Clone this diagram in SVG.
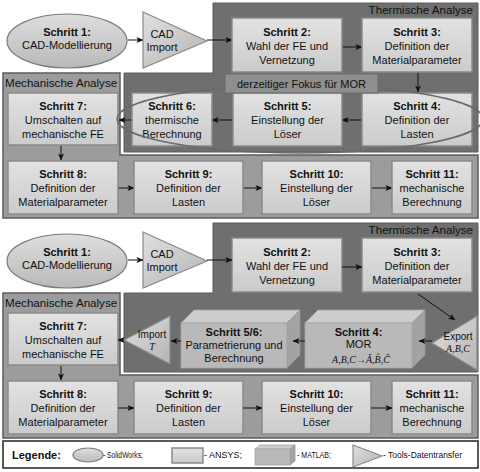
<svg xmlns="http://www.w3.org/2000/svg" width="480" height="472" viewBox="0 0 480 472">
<defs>
<linearGradient id="gBox" x1="0" y1="0" x2="0" y2="1"><stop offset="0" stop-color="#e2e2e2"/><stop offset="1" stop-color="#cbcbcb"/></linearGradient>
<linearGradient id="gEll" x1="0" y1="0" x2="0" y2="1"><stop offset="0" stop-color="#dedede"/><stop offset="1" stop-color="#b9b9b9"/></linearGradient>
<linearGradient id="gTri" x1="0" y1="0" x2="1" y2="1"><stop offset="0" stop-color="#e0e0e0"/><stop offset="1" stop-color="#b4b4b4"/></linearGradient>
<marker id="ah" viewBox="0 0 8 8" refX="7.5" refY="4" markerWidth="7" markerHeight="7" markerUnits="userSpaceOnUse" orient="auto"><path d="M0,0.6 L8,4 L0,7.4 L2,4 z" fill="#111"/></marker>
<style>
text{font-family:"Liberation Sans",Arial,sans-serif;fill:#111}
.t{font-size:11px;text-anchor:middle}
.b{font-weight:bold}
.box{fill:url(#gBox);stroke:#8a8a8a;stroke-width:1.5}
.ell{fill:url(#gEll);stroke:#7a7a7a;stroke-width:1.2}
.tri{fill:url(#gTri);stroke:#8a8a8a;stroke-width:1.2}
.mech{fill:#9c9c9c;stroke:#5c5c5c;stroke-width:1.5}
.therm{fill:#6f6f6f;stroke:#5a5a5a;stroke-width:1}
.ptitle{font-size:11.6px}
.c{fill:none;stroke:#111;stroke-width:1;marker-end:url(#ah)}
.front{fill:#b9b9b9;stroke:#a5a5a5;stroke-width:0.8}
.top{fill:#cdcdcd;stroke:#a5a5a5;stroke-width:0.8}
.side{fill:#a3a3a3;stroke:#959595;stroke-width:0.8}
.math{font-family:"Liberation Serif","Times New Roman",serif;font-style:italic;font-size:10px;text-anchor:middle}
.sm{font-size:10px;text-anchor:middle}
.leg{font-size:8.5px}
</style>
</defs>
<rect width="480" height="472" fill="#fff"/>

<!-- ===== TOP HALF ===== -->
<g id="panel-thermal-1">
<path class="therm" d="M213,3 H478 V152 H124 V73 H213 Z"/>
<text class="ptitle" x="473" y="14" text-anchor="end">Thermische Analyse</text>
</g>
<g id="panel-mech-1">
<path class="mech" d="M3,73 H120 V155 H478 V218 H3 Z"/>
<text class="ptitle" x="5" y="87">Mechanische Analyse</text>
</g>

<g id="connectors-1">
<line class="c" x1="128" y1="40" x2="143" y2="40"/>
<line class="c" x1="207" y1="40" x2="232" y2="40"/>
<line class="c" x1="342" y1="47" x2="362" y2="47"/>
<line class="c" x1="418" y1="72" x2="418" y2="92"/>
<line class="c" x1="362" y1="120" x2="342" y2="120"/>
<line class="c" x1="233" y1="120" x2="212" y2="120"/>
<line class="c" x1="132" y1="120" x2="119" y2="120"/>
<line class="c" x1="61" y1="146" x2="61" y2="160"/>
<line class="c" x1="118" y1="188" x2="134" y2="188"/>
<line class="c" x1="243" y1="188" x2="262" y2="188"/>
<line class="c" x1="371" y1="188" x2="392" y2="188"/>
</g>

<g id="s1-top"><ellipse class="ell" cx="67" cy="41" rx="60" ry="27"/><text class="t"><tspan class="b" x="67" y="36">Schritt 1:</tspan><tspan x="67" y="49">CAD-Modellierung</tspan></text></g>
<g id="cad-top"><polygon class="tri" points="143,12 207,41 143,68"/><text class="t"><tspan x="162" y="38">CAD</tspan><tspan x="162" y="51">Import</tspan></text></g>
<g id="s2-top"><rect class="box" x="232" y="18" width="110" height="54"/><text class="t"><tspan class="b" x="287" y="36">Schritt 2:</tspan><tspan x="287" y="50">Wahl der FE und</tspan><tspan x="287" y="64">Vernetzung</tspan></text></g>
<g id="s3-top"><rect class="box" x="362" y="18" width="110" height="54"/><text class="t"><tspan class="b" x="417" y="36">Schritt 3:</tspan><tspan x="417" y="50">Definition der</tspan><tspan x="417" y="64">Materialparameter</tspan></text></g>
<g id="s4-top"><rect class="box" x="362" y="93" width="110" height="53"/><text class="t"><tspan class="b" x="417" y="110">Schritt 4:</tspan><tspan x="417" y="124">Definition der</tspan><tspan x="417" y="138">Lasten</tspan></text></g>
<g id="s5-top"><rect class="box" x="233" y="93" width="109" height="53"/><text class="t"><tspan class="b" x="287.5" y="110">Schritt 5:</tspan><tspan x="287.5" y="124">Einstellung der</tspan><tspan x="287.5" y="138">Löser</tspan></text></g>
<g id="s6-top"><rect class="box" x="132" y="93" width="80" height="53"/><text class="t"><tspan class="b" x="172" y="110">Schritt 6:</tspan><tspan x="172" y="124">thermische</tspan><tspan x="172" y="138">Berechnung</tspan></text></g>
<g id="s7-top"><rect class="box" x="8" y="93" width="110" height="52"/><text class="t"><tspan class="b" x="63" y="110">Schritt 7:</tspan><tspan x="63" y="124">Umschalten auf</tspan><tspan x="63" y="138">mechanische FE</tspan></text></g>
<g id="s8-top"><rect class="box" x="8" y="161" width="110" height="53"/><text class="t"><tspan class="b" x="63" y="178">Schritt 8:</tspan><tspan x="63" y="192">Definition der</tspan><tspan x="63" y="206">Materialparameter</tspan></text></g>
<g id="s9-top"><rect class="box" x="134" y="161" width="109" height="53"/><text class="t"><tspan class="b" x="188.5" y="178">Schritt 9:</tspan><tspan x="188.5" y="192">Definition der</tspan><tspan x="188.5" y="206">Lasten</tspan></text></g>
<g id="s10-top"><rect class="box" x="262" y="161" width="109" height="53"/><text class="t"><tspan class="b" x="316.5" y="178">Schritt 10:</tspan><tspan x="316.5" y="192">Einstellung der</tspan><tspan x="316.5" y="206">Löser</tspan></text></g>
<g id="s11-top"><rect class="box" x="392" y="161" width="80" height="53"/><text class="t"><tspan class="b" x="432" y="178">Schritt 11:</tspan><tspan x="432" y="192">mechanische</tspan><tspan x="432" y="206">Berechnung</tspan></text></g>

<g id="focus">
<ellipse cx="300" cy="119" rx="183" ry="34" fill="none" stroke="#6a6a6a" stroke-width="1.5"/>
<rect x="225" y="74" width="153" height="19" fill="#8e8e8e" stroke="#6a6a6a" stroke-width="1"/>
<text class="t" x="301.5" y="88">derzeitiger Fokus für MOR</text>
</g>

<!-- ===== BOTTOM HALF ===== -->
<g id="panel-thermal-2">
<path class="therm" d="M213,223 H478 V372 H124 V293 H213 Z"/>
<text class="ptitle" x="473" y="234" text-anchor="end">Thermische Analyse</text>
</g>
<g id="panel-mech-2">
<path class="mech" d="M3,293 H120 V375 H478 V438 H3 Z"/>
<text class="ptitle" x="5" y="307">Mechanische Analyse</text>
</g>

<g id="s1-bot"><ellipse class="ell" cx="67" cy="261" rx="60" ry="27"/><text class="t"><tspan class="b" x="67" y="256">Schritt 1:</tspan><tspan x="67" y="269">CAD-Modellierung</tspan></text></g>
<g id="cad-bot"><polygon class="tri" points="143,232 207,261 143,288"/><text class="t"><tspan x="162" y="258">CAD</tspan><tspan x="162" y="271">Import</tspan></text></g>
<g id="s2-bot"><rect class="box" x="232" y="238" width="110" height="54"/><text class="t"><tspan class="b" x="287" y="256">Schritt 2:</tspan><tspan x="287" y="270">Wahl der FE und</tspan><tspan x="287" y="284">Vernetzung</tspan></text></g>
<g id="s3-bot"><rect class="box" x="362" y="238" width="110" height="54"/><text class="t"><tspan class="b" x="417" y="256">Schritt 3:</tspan><tspan x="417" y="270">Definition der</tspan><tspan x="417" y="284">Materialparameter</tspan></text></g>

<g id="s4-bot">
<polygon class="top" points="305,323 318,310 425,310 412,323"/>
<polygon class="side" points="412,323 425,310 425,355 412,368"/>
<rect class="front" x="305" y="323" width="107" height="45"/>
<text class="t"><tspan class="b" x="358.5" y="336">Schritt 4:</tspan><tspan x="358.5" y="348">MOR</tspan></text>
<text class="math" x="361" y="363">A,B,C<tspan font-style="normal">→</tspan>Â,B&#x302;,&#x108;</text>
</g>
<g id="s56-bot">
<polygon class="top" points="181,323 194,310 300,310 287,323"/>
<polygon class="side" points="287,323 300,310 300,355 287,368"/>
<rect class="front" x="181" y="323" width="106" height="45"/>
<text class="t"><tspan class="b" x="234" y="336">Schritt 5/6:</tspan><tspan x="234" y="349">Parametrierung und</tspan><tspan x="234" y="362">Berechnung</tspan></text>
</g>
<g id="export"><polygon class="tri" points="432,343 477,316 477,370"/><text class="sm" x="458" y="340">Export</text><text class="math" x="458" y="352">A,B,C</text></g>
<g id="import"><polygon class="tri" points="124,340 170,316 170,364"/><text class="sm" x="152" y="338">Import</text><text class="math" x="152" y="350">T</text></g>

<g id="s7-bot"><rect class="box" x="8" y="313" width="110" height="52"/><text class="t"><tspan class="b" x="63" y="330">Schritt 7:</tspan><tspan x="63" y="344">Umschalten auf</tspan><tspan x="63" y="358">mechanische FE</tspan></text></g>
<g id="s8-bot"><rect class="box" x="8" y="381" width="110" height="53"/><text class="t"><tspan class="b" x="63" y="398">Schritt 8:</tspan><tspan x="63" y="412">Definition der</tspan><tspan x="63" y="426">Materialparameter</tspan></text></g>
<g id="s9-bot"><rect class="box" x="134" y="381" width="109" height="53"/><text class="t"><tspan class="b" x="188.5" y="398">Schritt 9:</tspan><tspan x="188.5" y="412">Definition der</tspan><tspan x="188.5" y="426">Lasten</tspan></text></g>
<g id="s10-bot"><rect class="box" x="262" y="381" width="109" height="53"/><text class="t"><tspan class="b" x="316.5" y="398">Schritt 10:</tspan><tspan x="316.5" y="412">Einstellung der</tspan><tspan x="316.5" y="426">Löser</tspan></text></g>
<g id="s11-bot"><rect class="box" x="392" y="381" width="80" height="53"/><text class="t"><tspan class="b" x="432" y="398">Schritt 11:</tspan><tspan x="432" y="412">mechanische</tspan><tspan x="432" y="426">Berechnung</tspan></text></g>

<g id="connectors-2">
<line class="c" x1="128" y1="260" x2="143" y2="260"/>
<line class="c" x1="207" y1="260" x2="232" y2="260"/>
<line class="c" x1="342" y1="267" x2="362" y2="267"/>
<line class="c" x1="418" y1="294" x2="455" y2="320"/>
<line class="c" x1="432" y1="341" x2="419" y2="341"/>
<line class="c" x1="305" y1="341" x2="293" y2="341"/>
<line class="c" x1="181" y1="341" x2="171" y2="341"/>
<line class="c" x1="124" y1="340" x2="118" y2="340"/>
<line class="c" x1="61" y1="366" x2="61" y2="380"/>
<line class="c" x1="118" y1="408" x2="134" y2="408"/>
<line class="c" x1="243" y1="408" x2="262" y2="408"/>
<line class="c" x1="371" y1="408" x2="392" y2="408"/>
</g>

<!-- ===== LEGEND ===== -->
<g id="legend">
<rect x="3" y="441" width="475" height="27" fill="#fff" stroke="#222" stroke-width="1.5"/>
<text x="12" y="459" font-size="11" font-weight="bold">Legende:</text>
<ellipse class="ell" cx="88" cy="455" rx="15" ry="7"/>
<text class="leg" x="103" y="458" textLength="40" lengthAdjust="spacingAndGlyphs">- SolidWorks;</text>
<rect class="box" x="172" y="448" width="31" height="15"/>
<text class="leg" x="204" y="458" textLength="38" lengthAdjust="spacingAndGlyphs">- ANSYS;</text>
<polygon class="top" points="255,449 260,445 295,445 290,449"/>
<polygon class="side" points="290,449 295,445 295,461 290,465"/>
<rect class="front" x="255" y="449" width="35" height="16"/>
<text class="leg" x="297" y="458" textLength="34" lengthAdjust="spacingAndGlyphs">- MATLAB;</text>
<polygon class="tri" points="353,445 382,456 353,467"/>
<text class="leg" x="383" y="458" textLength="79" lengthAdjust="spacingAndGlyphs">- Tools-Datentransfer</text>
</g>
</svg>
